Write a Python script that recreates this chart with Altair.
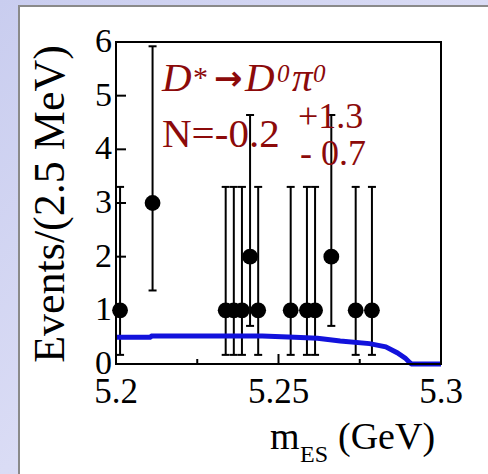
import altair as alt
import pandas as pd

# Events per 2.5 MeV bin, with the ends of their Poisson error bars
bin_center = [5.20125, 5.21125, 5.23375, 5.23625, 5.23875, 5.24125, 5.24375,
              5.25375, 5.25875, 5.26125, 5.26625, 5.27375, 5.27875]
events = [1, 3, 1, 1, 1, 2, 1, 1, 1, 1, 2, 1, 1]
bar_lo = [0.17, 1.37, 0.17, 0.17, 0.17, 0.71, 0.17, 0.17, 0.17, 0.17, 0.71, 0.17, 0.17]
bar_hi = [3.30, 5.92, 3.30, 3.30, 3.30, 4.64, 3.30, 3.30, 3.30, 3.30, 4.64, 3.30, 3.30]

# Background (ARGUS-shaped) fit curve
fit_x = [5.200, 5.2105, 5.211, 5.230, 5.245, 5.255, 5.262, 5.269, 5.278,
         5.283, 5.2865, 5.289, 5.2905, 5.291, 5.300]
fit_y = [0.50, 0.50, 0.52, 0.52, 0.52, 0.50, 0.48, 0.43, 0.38,
         0.32, 0.21, 0.11, 0.02, 0.00, 0.00]

# Axis ticks and their labels
y_ticks = [0, 1, 2, 3, 4, 5, 6]
y_labels = ["0", "1", "2", "3", "4", "5", "6"]
x_major = [5.2, 5.25, 5.3]
x_labels = ["5.2", "5.25", "5.3"]
x_minor = [5.225, 5.275]

W, H = 325, 322
SERIF = "Liberation Serif"
RED = "#8c0a0a"

pts = pd.DataFrame({"m": bin_center, "n": events, "lo": bar_lo, "hi": bar_hi})
fit = pd.DataFrame({"m": fit_x, "f": fit_y})
ytab = pd.DataFrame({"v": y_ticks, "lab": y_labels})
xtab = pd.DataFrame({"v": x_major, "lab": x_labels})
xmin = pd.DataFrame({"v": x_minor})

xs = alt.Scale(domain=[5.2, 5.3], nice=False, zero=False)
ys = alt.Scale(domain=[0, 6], nice=False, zero=False)
one = alt.Data(values=[{}])


def X(field):
    return alt.X(field, type="quantitative", scale=xs, axis=None)


def Y(field):
    return alt.Y(field, type="quantitative", scale=ys, axis=None)


# slide-style backdrop and white panel
backdrop = alt.Chart(one).mark_rect(
    fill={"gradient": "linear", "x1": 0, "y1": 0, "x2": 1, "y2": 1,
          "stops": [{"offset": 0, "color": "#c9cdef"},
                    {"offset": 0.5, "color": "#dadcf5"},
                    {"offset": 1, "color": "#ccd0f0"}]}
).encode(x=alt.value(-116), x2=alt.value(372), y=alt.value(-42), y2=alt.value(432))

panel = alt.Chart(one).mark_rect(fill="white", stroke="#8a8a8a", strokeWidth=2).encode(
    x=alt.value(-97), x2=alt.value(400), y=alt.value(-36), y2=alt.value(460))

bars = alt.Chart(pts).mark_rule(color="black", strokeWidth=2).encode(
    x=X("m"), y=Y("lo"), y2="hi:Q")
cap_lo = alt.Chart(pts).mark_tick(orient="horizontal", color="black", size=8,
                                  thickness=2, opacity=1).encode(x=X("m"), y=Y("lo"))
cap_hi = alt.Chart(pts).mark_tick(orient="horizontal", color="black", size=8,
                                  thickness=2, opacity=1).encode(x=X("m"), y=Y("hi"))

curve = alt.Chart(fit).mark_line(color="#1212dc", strokeWidth=5).encode(
    x=X("m"), y=Y("f"))

dots = alt.Chart(pts).mark_circle(color="black", size=250, opacity=1).encode(
    x=X("m"), y=Y("n"))

frame = alt.Chart(one).mark_rect(filled=False, stroke="black", strokeWidth=2).encode(
    x=alt.value(0), x2=alt.value(W), y=alt.value(0), y2=alt.value(H))

# inward-pointing ticks
yt = alt.Chart(ytab).mark_rule(color="black", strokeWidth=2).encode(
    y=Y("v"), x=alt.value(0), x2=alt.value(10))
xt_major = alt.Chart(xtab).mark_rule(color="black", strokeWidth=2).encode(
    x=X("v"), y=alt.value(H), y2=alt.value(H - 10))
xt_minor = alt.Chart(xmin).mark_rule(color="black", strokeWidth=2).encode(
    x=X("v"), y=alt.value(H), y2=alt.value(H - 5))

# tick labels
ylab = alt.Chart(ytab).mark_text(font=SERIF, fontSize=34, color="black",
                                 align="right", baseline="middle").encode(
    y=Y("v"), x=alt.value(-4), text="lab:N")
xlab = alt.Chart(xtab).mark_text(font=SERIF, fontSize=35, color="black",
                                 align="center", baseline="alphabetic").encode(
    x=X("v"), y=alt.value(H + 39), text="lab:N")


def label(text, x, y, size, color="black", style="normal", font=SERIF,
          weight="normal", angle=0, align="left"):
    return alt.Chart(one).mark_text(
        text=text, font=font, fontSize=size, fontStyle=style, fontWeight=weight,
        color=color, align=align, baseline="alphabetic", angle=angle
    ).encode(x=alt.value(x), y=alt.value(y))


texts = [
    # decay label
    label("D", 46, 49, 41, RED, "italic"),
    label("*", 77, 45, 30, RED),
    label("\u2192", 98, 48, 34, RED, font="DejaVu Sans", weight="bold"),
    label("D", 129, 49, 41, RED, "italic"),
    label("0", 161, 40, 25, RED, "italic"),
    label("\u03c0", 176, 49, 41, RED, "italic"),
    label("0", 197, 40, 25, RED, "italic"),
    # fitted yield
    label("N=-0.2", 46, 105, 41, RED),
    label("+1.3", 182, 86, 36, RED),
    label("- 0.7", 184, 123, 36, RED),
    # axis titles
    label("Events/(2.5 MeV)", -52, 162, 44, angle=270, align="center"),
    label("m", 154, 407, 38),
    label("ES", 184, 420, 24),
    label("(GeV)", 222, 407, 38),
]

chart = alt.layer(
    backdrop, panel, bars, cap_lo, cap_hi, curve, dots, frame,
    yt, xt_major, xt_minor, ylab, xlab, *texts
).properties(
    width=W, height=H,
    autosize=alt.AutoSizeParams(type="none"),
    padding={"left": 116, "top": 42, "right": 47, "bottom": 110},
).configure_view(stroke=None)

chart.save("out.html", embed_options={"renderer": "svg", "actions": False})
